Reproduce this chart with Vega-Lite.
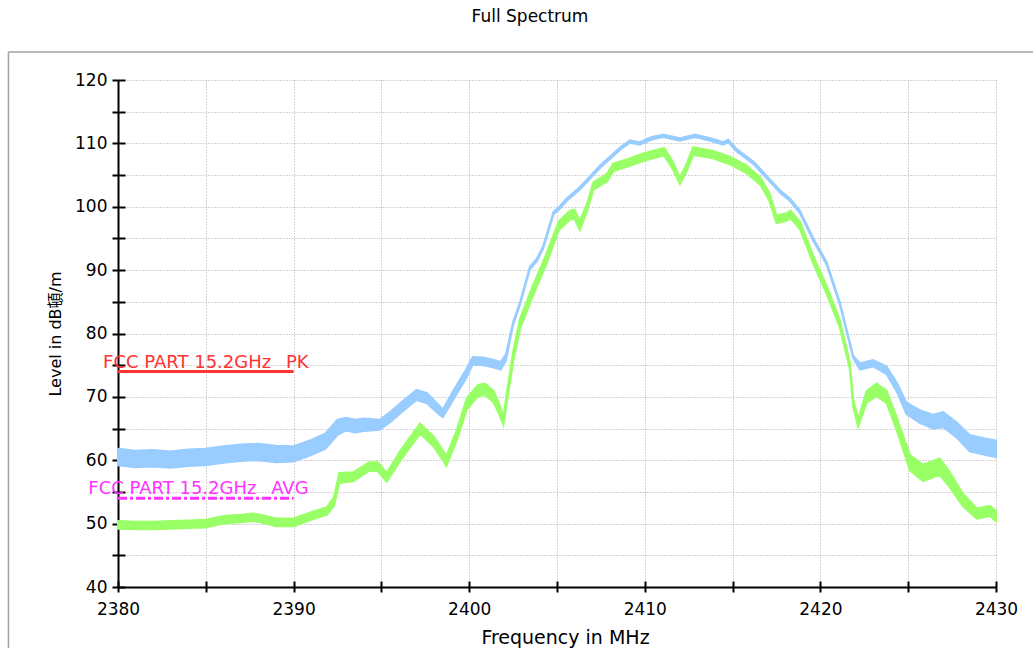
{
  "$schema": "https://vega.github.io/schema/vega-lite/v6.json",
  "width": 878,
  "height": 507,
  "autosize": {"type": "none"},
  "padding": {"left": 118, "top": 80, "right": 37, "bottom": 61},
  "background": "white",
  "title": {"text": "Full Spectrum", "font": "DejaVu Sans", "fontSize": 17, "fontWeight": "normal", "color": "#000000", "anchor": "middle", "frame": "group", "dx": -27, "offset": 25},
  "resolve": {"axis": {"x": "independent", "y": "independent"}},
  "config": {
    "view": {"stroke": null},
    "axis": {
      "domainColor": "#000000", "domainWidth": 2,
      "tickColor": "#000000", "tickWidth": 2,
      "gridColor": "#a8a8a8", "gridDash": [1, 2], "gridWidth": 1,
      "labelFont": "DejaVu Sans", "labelFontSize": 17, "labelColor": "#000000",
      "labelFlush": false, "labelOverlap": false,
      "titleFont": "DejaVu Sans, Noto Sans CJK KR", "titleFontSize": 17, "titleFontWeight": "normal", "titleColor": "#000000"
    }
  },
  "datasets": {
    "pk": [
      {"f": 2380, "lo": 59.2, "hi": 61.8}, {"f": 2381, "lo": 58.9, "hi": 61.5}, {"f": 2382, "lo": 59.0, "hi": 61.6},
      {"f": 2383, "lo": 58.8, "hi": 61.4}, {"f": 2384, "lo": 59.1, "hi": 61.7}, {"f": 2385, "lo": 59.2, "hi": 61.8},
      {"f": 2386, "lo": 59.6, "hi": 62.2}, {"f": 2387, "lo": 59.9, "hi": 62.5}, {"f": 2388, "lo": 60.0, "hi": 62.6},
      {"f": 2389, "lo": 59.7, "hi": 62.3}, {"f": 2390, "lo": 59.8, "hi": 62.2}, {"f": 2391, "lo": 60.8, "hi": 63.2},
      {"f": 2391.8, "lo": 61.8, "hi": 64.2}, {"f": 2392.5, "lo": 64.0, "hi": 66.4}, {"f": 2393, "lo": 64.7, "hi": 66.7},
      {"f": 2393.5, "lo": 64.4, "hi": 66.4}, {"f": 2394, "lo": 64.6, "hi": 66.6}, {"f": 2394.9, "lo": 64.8, "hi": 66.4},
      {"f": 2395.5, "lo": 66.0, "hi": 67.6}, {"f": 2396.2, "lo": 67.7, "hi": 69.3}, {"f": 2397, "lo": 69.5, "hi": 71.1},
      {"f": 2397.6, "lo": 69.0, "hi": 70.6}, {"f": 2398.3, "lo": 67.2, "hi": 68.6}, {"f": 2398.5, "lo": 66.8, "hi": 68.0},
      {"f": 2399.1, "lo": 69.6, "hi": 71.0}, {"f": 2399.8, "lo": 72.8, "hi": 74.2}, {"f": 2400.2, "lo": 75.1, "hi": 76.3},
      {"f": 2400.8, "lo": 75.0, "hi": 76.2}, {"f": 2401.3, "lo": 74.7, "hi": 75.9}, {"f": 2401.8, "lo": 74.3, "hi": 75.5},
      {"f": 2402.1, "lo": 75.8, "hi": 76.8}, {"f": 2402.5, "lo": 81.4, "hi": 81.8}, {"f": 2402.9, "lo": 84.6, "hi": 85.0},
      {"f": 2403.45, "lo": 90.1, "hi": 90.5}, {"f": 2403.85, "lo": 91.4, "hi": 91.8}, {"f": 2404.2, "lo": 93.3, "hi": 93.7},
      {"f": 2404.8, "lo": 98.8, "hi": 99.2}, {"f": 2405.1, "lo": 99.5, "hi": 99.9}, {"f": 2405.55, "lo": 100.9, "hi": 101.3},
      {"f": 2406.3, "lo": 102.7, "hi": 103.1}, {"f": 2407.45, "lo": 106.1, "hi": 106.5}, {"f": 2408.6, "lo": 109.0, "hi": 109.4},
      {"f": 2409.15, "lo": 110.1, "hi": 110.5}, {"f": 2409.7, "lo": 109.8, "hi": 110.2}, {"f": 2410.4, "lo": 110.6, "hi": 111.0},
      {"f": 2411.05, "lo": 111.0, "hi": 111.4}, {"f": 2412.0, "lo": 110.4, "hi": 110.8}, {"f": 2412.86, "lo": 111.0, "hi": 111.4},
      {"f": 2413.9, "lo": 110.3, "hi": 110.7}, {"f": 2414.47, "lo": 109.8, "hi": 110.2}, {"f": 2414.75, "lo": 110.2, "hi": 110.6},
      {"f": 2415.2, "lo": 108.8, "hi": 109.2}, {"f": 2416.2, "lo": 106.7, "hi": 107.1}, {"f": 2417.1, "lo": 104.0, "hi": 104.4},
      {"f": 2417.7, "lo": 102.2, "hi": 102.6}, {"f": 2418.27, "lo": 100.9, "hi": 101.3}, {"f": 2418.83, "lo": 99.0, "hi": 99.4},
      {"f": 2419.6, "lo": 94.6, "hi": 95.0}, {"f": 2420.35, "lo": 90.9, "hi": 91.3}, {"f": 2421.1, "lo": 84.6, "hi": 85.0},
      {"f": 2421.87, "lo": 76.1, "hi": 76.5}, {"f": 2422.25, "lo": 74.3, "hi": 75.3}, {"f": 2423.0, "lo": 74.8, "hi": 75.8},
      {"f": 2423.77, "lo": 73.6, "hi": 74.8}, {"f": 2424.34, "lo": 70.9, "hi": 72.3}, {"f": 2424.9, "lo": 67.3, "hi": 69.1},
      {"f": 2425.66, "lo": 65.9, "hi": 67.9}, {"f": 2426.4, "lo": 65.0, "hi": 67.2}, {"f": 2427.0, "lo": 65.2, "hi": 67.6},
      {"f": 2427.75, "lo": 63.6, "hi": 66.0}, {"f": 2428.5, "lo": 61.4, "hi": 64.0}, {"f": 2429.46, "lo": 60.8, "hi": 63.4},
      {"f": 2430, "lo": 60.5, "hi": 63.1}
    ],
    "avg": [
      {"f": 2380, "lo": 49.2, "hi": 50.4}, {"f": 2381, "lo": 49.1, "hi": 50.3}, {"f": 2382, "lo": 49.1, "hi": 50.3},
      {"f": 2383, "lo": 49.2, "hi": 50.4}, {"f": 2384, "lo": 49.3, "hi": 50.5}, {"f": 2385, "lo": 49.4, "hi": 50.6},
      {"f": 2386, "lo": 50.0, "hi": 51.2}, {"f": 2387, "lo": 50.2, "hi": 51.4}, {"f": 2387.7, "lo": 50.4, "hi": 51.6},
      {"f": 2388.3, "lo": 50.1, "hi": 51.3}, {"f": 2389, "lo": 49.6, "hi": 50.8}, {"f": 2390, "lo": 49.6, "hi": 50.8},
      {"f": 2391, "lo": 50.6, "hi": 51.8}, {"f": 2391.9, "lo": 51.4, "hi": 52.6}, {"f": 2392.3, "lo": 52.8, "hi": 54.2},
      {"f": 2392.6, "lo": 56.4, "hi": 58.0}, {"f": 2393.4, "lo": 56.7, "hi": 58.1}, {"f": 2394.3, "lo": 58.3, "hi": 59.7},
      {"f": 2394.8, "lo": 58.3, "hi": 59.7}, {"f": 2395.3, "lo": 56.6, "hi": 58.0}, {"f": 2396.1, "lo": 60.0, "hi": 61.6},
      {"f": 2397.2, "lo": 64.2, "hi": 65.8}, {"f": 2398.0, "lo": 62.1, "hi": 63.7}, {"f": 2398.7, "lo": 59.1, "hi": 60.7},
      {"f": 2399.3, "lo": 63.2, "hi": 64.8}, {"f": 2399.86, "lo": 68.0, "hi": 69.8}, {"f": 2400.5, "lo": 70.1, "hi": 71.9},
      {"f": 2400.9, "lo": 70.3, "hi": 72.1}, {"f": 2401.4, "lo": 69.1, "hi": 70.9}, {"f": 2401.75, "lo": 67.0, "hi": 68.6},
      {"f": 2401.95, "lo": 65.6, "hi": 66.8}, {"f": 2402.15, "lo": 69.2, "hi": 70.8}, {"f": 2402.5, "lo": 75.5, "hi": 77.1},
      {"f": 2402.9, "lo": 80.8, "hi": 82.4}, {"f": 2403.65, "lo": 86.1, "hi": 87.7}, {"f": 2404.4, "lo": 91.0, "hi": 92.6},
      {"f": 2405.1, "lo": 96.3, "hi": 97.7}, {"f": 2405.75, "lo": 98.0, "hi": 99.4}, {"f": 2406.0, "lo": 98.1, "hi": 99.5},
      {"f": 2406.3, "lo": 96.3, "hi": 97.7}, {"f": 2406.7, "lo": 99.2, "hi": 100.4}, {"f": 2407.07, "lo": 102.7, "hi": 103.9},
      {"f": 2407.85, "lo": 104.0, "hi": 105.2}, {"f": 2408.2, "lo": 105.6, "hi": 106.8}, {"f": 2409.0, "lo": 106.3, "hi": 107.5},
      {"f": 2410.0, "lo": 107.3, "hi": 108.5}, {"f": 2411.1, "lo": 108.1, "hi": 109.3}, {"f": 2411.6, "lo": 105.9, "hi": 107.1},
      {"f": 2412.0, "lo": 103.6, "hi": 104.6}, {"f": 2412.4, "lo": 105.7, "hi": 106.9}, {"f": 2412.75, "lo": 108.2, "hi": 109.4},
      {"f": 2413.9, "lo": 107.6, "hi": 108.8}, {"f": 2414.85, "lo": 106.7, "hi": 107.9}, {"f": 2415.8, "lo": 105.3, "hi": 106.5},
      {"f": 2416.6, "lo": 103.4, "hi": 104.6}, {"f": 2417.1, "lo": 100.9, "hi": 102.1}, {"f": 2417.5, "lo": 97.4, "hi": 98.6},
      {"f": 2418.1, "lo": 97.8, "hi": 99.0}, {"f": 2418.3, "lo": 98.2, "hi": 99.4}, {"f": 2418.85, "lo": 96.4, "hi": 97.6},
      {"f": 2419.6, "lo": 91.0, "hi": 92.2}, {"f": 2420.35, "lo": 86.3, "hi": 87.5}, {"f": 2421.1, "lo": 81.0, "hi": 82.2},
      {"f": 2421.67, "lo": 74.5, "hi": 75.5}, {"f": 2421.87, "lo": 68.4, "hi": 69.6}, {"f": 2422.15, "lo": 65.3, "hi": 66.5},
      {"f": 2422.63, "lo": 69.1, "hi": 70.9}, {"f": 2423.2, "lo": 70.1, "hi": 72.1}, {"f": 2423.77, "lo": 69.0, "hi": 71.0},
      {"f": 2424.34, "lo": 64.8, "hi": 66.8}, {"f": 2425.1, "lo": 58.4, "hi": 60.8}, {"f": 2425.85, "lo": 56.7, "hi": 59.3},
      {"f": 2426.8, "lo": 57.7, "hi": 60.3}, {"f": 2427.35, "lo": 55.8, "hi": 58.2}, {"f": 2428.1, "lo": 52.8, "hi": 54.8},
      {"f": 2428.9, "lo": 50.8, "hi": 52.4}, {"f": 2429.65, "lo": 51.2, "hi": 52.8}, {"f": 2430, "lo": 50.4, "hi": 52.0}
    ],
    "limits": [
      {"label": "FCC PART 15.2GHz _PK", "start": 2380, "end": 2390, "level": 74},
      {"label": "FCC PART 15.2GHz _AVG", "start": 2380, "end": 2390, "level": 54}
    ],
    "one": [{}]
  },
  "layer": [
    {
      "data": {"name": "pk"},
      "mark": {"type": "area", "color": "#99ccff", "stroke": "#99ccff", "strokeWidth": 2},
      "encoding": {
        "x": {"field": "f", "type": "quantitative",
              "scale": {"domain": [2380, 2430], "nice": false, "zero": false},
              "axis": {"values": [2380, 2385, 2390, 2395, 2400, 2405, 2410, 2415, 2420, 2425, 2430],
                       "format": "d", "labelExpr": "datum.value % 10 === 0 ? datum.label : ''", "orient": "bottom",
                       "title": "Frequency in MHz", "titleFontSize": 19, "titleX": 447, "grid": true, "tickSize": 5, "labelPadding": 9, "titlePadding": 11}},
        "y": {"field": "hi", "type": "quantitative",
              "scale": {"domain": [40, 120], "nice": false, "zero": false},
              "axis": {"values": [40, 45, 50, 55, 60, 65, 70, 75, 80, 85, 90, 95, 100, 105, 110, 115, 120],
                       "format": "d", "labelExpr": "datum.value % 10 === 0 ? datum.label : ''", "orient": "left",
                       "title": "Level in dB頓/m", "titleFontSize": 16, "grid": true, "tickSize": 6, "labelPadding": 5, "titlePadding": 11}},
        "y2": {"field": "lo"}
      }
    },
    {
      "data": {"name": "avg"},
      "mark": {"type": "area", "color": "#99ff66", "stroke": "#99ff66", "strokeWidth": 2},
      "encoding": {
        "x": {"field": "f", "type": "quantitative", "axis": null},
        "y": {"field": "hi", "type": "quantitative", "axis": null},
        "y2": {"field": "lo"}
      }
    },
    {
      "data": {"name": "limits"},
      "mark": {"type": "rule", "strokeWidth": 3},
      "encoding": {
        "x": {"field": "start", "type": "quantitative", "axis": null},
        "x2": {"field": "end"},
        "y": {"field": "level", "type": "quantitative", "axis": null},
        "color": {"field": "label", "type": "nominal", "legend": null,
                  "scale": {"domain": ["FCC PART 15.2GHz _PK", "FCC PART 15.2GHz _AVG"], "range": ["#ff3333", "#ff33ff"]}},
        "strokeDash": {"field": "label", "type": "nominal", "legend": null,
                  "scale": {"domain": ["FCC PART 15.2GHz _PK", "FCC PART 15.2GHz _AVG"], "range": [[1, 0], [9, 3, 3, 3]]}}
      }
    },
    {
      "data": {"name": "limits"},
      "mark": {"type": "text", "align": "right", "baseline": "alphabetic", "dx": 15, "dy": -4, "font": "DejaVu Sans", "fontSize": 18},
      "encoding": {
        "x": {"field": "end", "type": "quantitative", "axis": null},
        "y": {"field": "level", "type": "quantitative", "axis": null},
        "text": {"field": "label"},
        "color": {"field": "label", "type": "nominal", "legend": null}
      }
    },
    {
      "data": {"name": "one"},
      "mark": {"type": "rule", "color": "#a0a0a0", "strokeWidth": 1.5, "clip": false},
      "encoding": {
        "x": {"datum": 2373.76, "type": "quantitative",
              "axis": {"orient": "bottom", "offset": -6, "values": [2380, 2385, 2390, 2395, 2400, 2405, 2410, 2415, 2420, 2425, 2430],
                       "domain": false, "labels": false, "grid": false, "title": null, "tickSize": 6}},
        "y": {"datum": 124.4, "type": "quantitative",
              "axis": {"orient": "left", "offset": -7, "values": [40, 45, 50, 55, 60, 65, 70, 75, 80, 85, 90, 95, 100, 105, 110, 115, 120],
                       "domain": false, "labels": false, "grid": false, "title": null, "tickSize": 7}},
        "y2": {"datum": 29}
      }
    },
    {
      "data": {"name": "one"},
      "mark": {"type": "rule", "color": "#a0a0a0", "strokeWidth": 1.5, "clip": false},
      "encoding": {
        "x": {"datum": 2373.76, "type": "quantitative", "axis": null},
        "x2": {"datum": 2433},
        "y": {"datum": 124.4, "type": "quantitative", "axis": null}
      }
    }
  ]
}
